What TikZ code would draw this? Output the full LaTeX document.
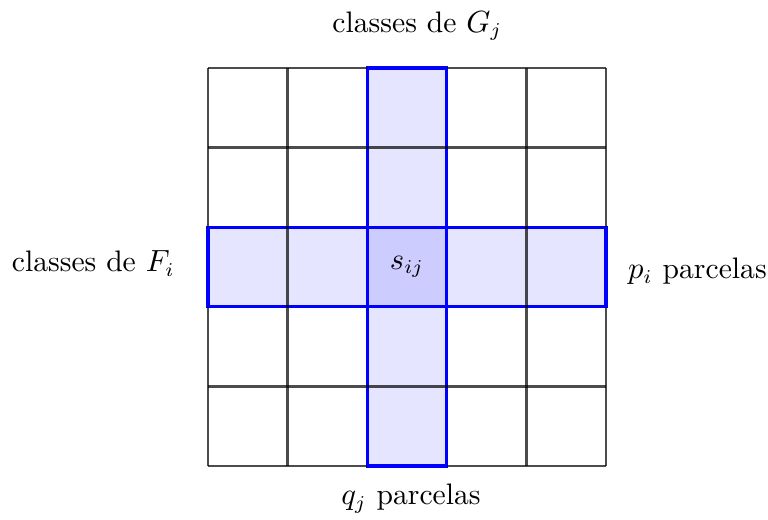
\documentclass[tikz,border=0pt]{standalone}
\begin{document}
\begin{tikzpicture}[
  gridline/.style={black, opacity=0.7, line width=0.8pt},
  hifill/.style={fill=blue!10},
  hiedge/.style={draw=blue, line width=1.1pt},
  centercell/.style={fill=blue!20},
  lbl/.style={inner sep=0pt, font=\fontsize{10.6pt}{12.7pt}\selectfont}
]
\useasboundingbox (-2.613,-0.678) rectangle (7.035,5.854);
\fill[hifill] (0,2) rectangle (5,3);
\fill[hifill] (2,0) rectangle (3,5);
\fill[centercell] (2,2) rectangle (3,3);
\draw[hiedge] (0,2) rectangle (5,3);
\draw[hiedge] (2,0) rectangle (3,5);
\foreach \k in {1,4} {
  \draw[gridline] (\k,0) -- (\k,5);
  \draw[gridline] (0,\k) -- (5,\k);
}
\foreach \k in {0,5} {
  \draw[gridline] (\k,0) -- (\k,2) (\k,3) -- (\k,5);
  \draw[gridline] (0,\k) -- (2,\k) (3,\k) -- (5,\k);
}
\node[lbl] (s) at (2.5,2.5) {$s_{ij}$};
\node[lbl, anchor=base] (top) at (2.63,5.45) {classes de $G_j$};
\node[lbl, anchor=base east] (left) at (-0.41,2.44) {classes de $F_i$};
\node[lbl, anchor=base west] (right) at (5.27,2.35) {$p_i$ parcelas};
\node[lbl, anchor=base] (bottom) at (2.55,-0.49) {$q_j$ parcelas};
\end{tikzpicture}
\end{document}
